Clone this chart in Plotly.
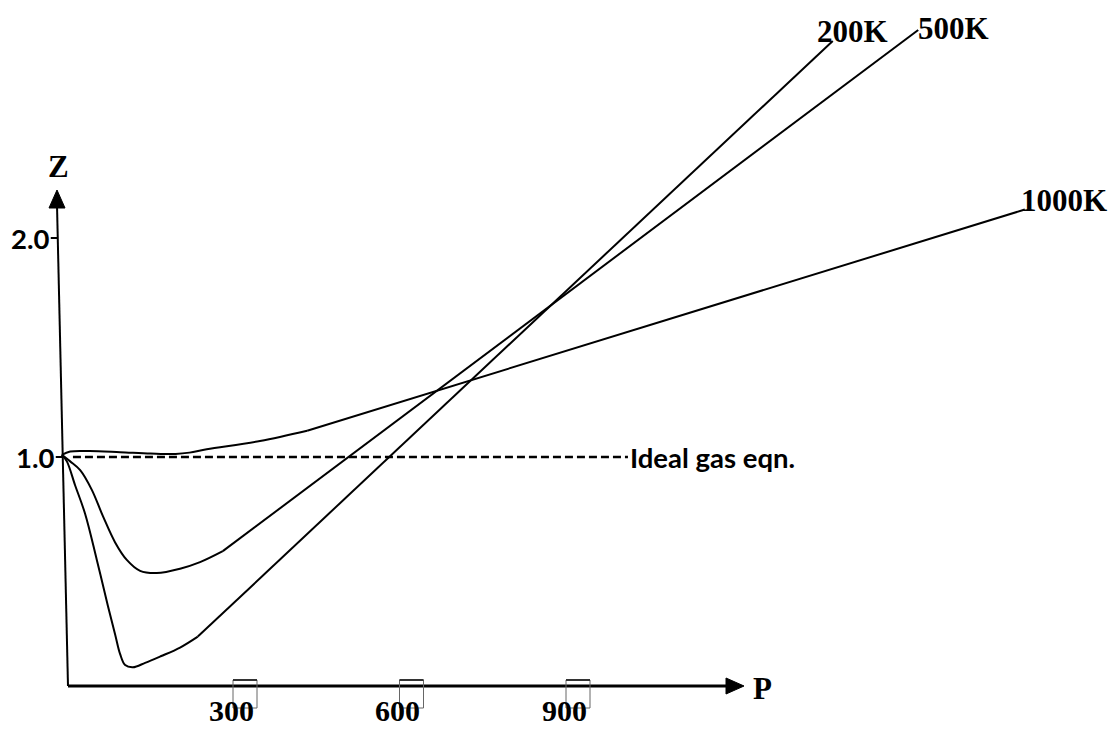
import plotly.graph_objects as go

# ---------------- data (P in chart units, Z compressibility) ----------------
p_1000 = [-30, -15, 20, 75, 130, 175, 200, 231, 327, 412]
z_1000 = [1.01, 1.025, 1.027, 1.022, 1.016, 1.014, 1.02, 1.035, 1.073, 1.12]
p_1000_end = [412, 1705]
z_1000_end = [1.12, 2.13]

p_500 = [-30, -15, 3, 24, 44, 66, 87, 111, 141, 183, 219, 260]
z_500 = [1.01, 0.98, 0.94, 0.85, 0.73, 0.61, 0.53, 0.48, 0.47, 0.49, 0.52, 0.57]
p_500_end = [260, 1513]
z_500_end = [0.57, 2.95]

p_200 = [-30, -21, -6, 12, 33, 53, 66, 75, 84, 98, 120, 148, 183, 215]
z_200 = [1.01, 0.98, 0.87, 0.74, 0.53, 0.32, 0.19, 0.10, 0.05, 0.04, 0.06, 0.09, 0.13, 0.18]
p_200_end = [215, 1359]
z_200_end = [0.18, 2.90]

ideal_p = [-10, 990]
ideal_z = [1.0, 1.0]

p_ticks = [300, 600, 900]
p_tick_labels = ["300", "600", "900"]
z_ticks = [1.0, 2.0]
z_tick_labels = ["1.0", "2.0"]
series_labels = ["200K", "500K", "1000K"]

# ---------------- layout helpers (screen pixel -> axis units) ----------------
OFF = 8                 # page body margin
W, H = 1110, 721        # figure size so that it ends at the window edge
def PX(x):
    return (x - 78.5) / 0.555
def PY(y):
    return (676 - y) / 219.0

fig = go.Figure()
for px_, pz_, shape in [(p_1000, z_1000, "spline"), (p_1000_end, z_1000_end, "linear"),
                        (p_500, z_500, "spline"), (p_500_end, z_500_end, "linear"),
                        (p_200, z_200, "spline"), (p_200_end, z_200_end, "linear")]:
    fig.add_trace(go.Scatter(x=px_, y=pz_, mode="lines", line=dict(color="black", width=2, shape=shape),
                             hoverinfo="skip", showlegend=False))

fig.add_trace(go.Scatter(x=ideal_p, y=ideal_z, mode="lines",
                         line=dict(color="black", width=2.5, dash="8px,4px"),
                         hoverinfo="skip", showlegend=False))

shapes = []
# x axis
shapes.append(dict(type="line", xref="x", yref="y", x0=PX(68), y0=PY(686), x1=PX(728), y1=PY(686),
                   line=dict(color="black", width=3)))
shapes.append(dict(type="path", xref="x", yref="y",
                   path=f"M {PX(744)},{PY(686)} L {PX(726)},{PY(678)} L {PX(726)},{PY(694)} Z",
                   fillcolor="black", line=dict(color="black", width=1)))
# y axis
shapes.append(dict(type="line", xref="x", yref="y", x0=PX(68), y0=PY(686), x1=PX(57), y1=PY(205),
                   line=dict(color="black", width=2)))
shapes.append(dict(type="path", xref="x", yref="y",
                   path=f"M {PX(57)},{PY(190)} L {PX(49)},{PY(208)} L {PX(65)},{PY(208)} Z",
                   fillcolor="black", line=dict(color="black", width=1)))
# y ticks
for zt in z_ticks:
    yy = 676 - 219 * zt
    xa = 68 - 11 * (686 - yy) / 481
    shapes.append(dict(type="line", xref="x", yref="y", x0=PX(xa - 7), y0=zt, x1=PX(xa), y1=zt,
                       line=dict(color="black", width=2)))
# x tick boxes
for pt in p_ticks:
    shapes.append(dict(type="rect", xref="x", yref="y", x0=pt - 12 / 0.555, x1=pt + 12 / 0.555,
                       y0=PY(708), y1=PY(680), line=dict(color="#666666", width=1)))
    shapes.append(dict(type="line", xref="x", yref="y", x0=pt - 12 / 0.555, x1=pt + 12 / 0.555,
                       y0=PY(680), y1=PY(680), line=dict(color="#333333", width=2)))

serif = dict(family="Liberation Serif", size=31, color="black", weight="bold")
serif_tick = dict(family="Liberation Serif", size=30, color="black", weight="bold")
sans = dict(family="Lato", size=27.5, color="black", weight="bold")
ann = []
ann.append(dict(x=PX(58), y=PY(166), text="Z", font=serif, xanchor="center", yanchor="middle"))
ann.append(dict(x=PX(762), y=PY(688), text="P", font=serif, xanchor="center", yanchor="middle"))
for zt, lab in zip(z_ticks, z_tick_labels):
    yy = 676 - 219 * zt
    xa = 68 - 11 * (686 - yy) / 481
    ann.append(dict(x=PX(xa - 7), y=zt, text=lab, font=sans, xanchor="right", yanchor="middle"))
ann.append(dict(x=ideal_p[1], y=ideal_z[1], text="Ideal gas eqn.", font=sans, xanchor="left",
                yanchor="middle", xshift=0))
for pt, lab in zip(p_ticks, p_tick_labels):
    ann.append(dict(x=pt, y=PY(710), text=lab, font=serif_tick, xanchor="center", yanchor="middle",
                    xshift=-14))
ann.append(dict(x=p_200_end[1], y=z_200_end[1], text=series_labels[0], font=serif, xanchor="left",
                yanchor="middle", xshift=-18, yshift=9))
ann.append(dict(x=p_500_end[1], y=z_500_end[1], text=series_labels[1], font=serif, xanchor="left",
                yanchor="middle", xshift=-2, yshift=1))
ann.append(dict(x=p_1000_end[1], y=z_1000_end[1], text=series_labels[2], font=serif, xanchor="left",
                yanchor="middle", xshift=-6, yshift=9))
for a in ann:
    a.update(showarrow=False, xref="x", yref="y")

fig.update_layout(
    width=W, height=H, margin=dict(l=0, r=0, t=0, b=0),
    paper_bgcolor="white", plot_bgcolor="white",
    xaxis=dict(visible=False, range=[PX(OFF), PX(OFF + W)], fixedrange=True),
    yaxis=dict(visible=False, range=[PY(OFF + H), PY(OFF)], fixedrange=True),
    shapes=shapes, annotations=ann, showlegend=False,
)
fig.write_html("out.html")
